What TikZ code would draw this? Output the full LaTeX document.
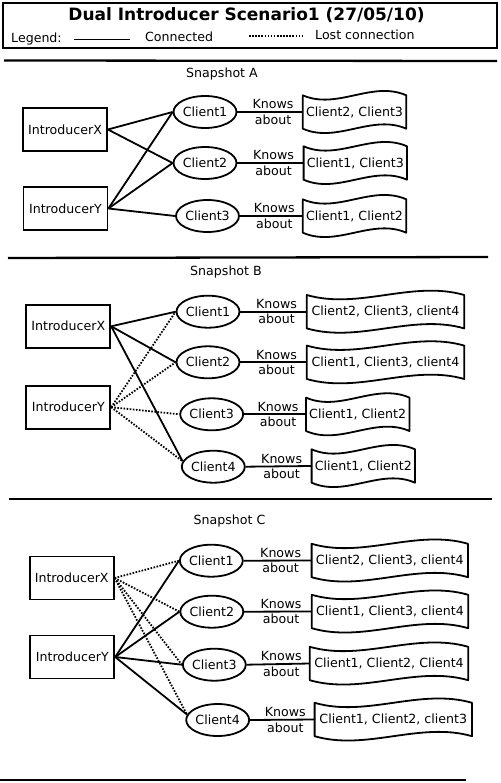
\documentclass[tikz,border=0pt]{standalone}
\usepackage{fontspec}
\setmainfont{DejaVu Sans}
\usetikzlibrary{shapes.geometric,calc}
\newcommand\tapeoutline[1]{%
  \draw[shapeline] (#1.north west)
    .. controls ($(#1.north west)!0.33!(#1.north east)+(0,15)$) and ($(#1.north west)!0.67!(#1.north east)+(0,-15)$) .. (#1.north east)
    -- (#1.south east)
    .. controls ($(#1.south west)!0.67!(#1.south east)+(0,-15)$) and ($(#1.south west)!0.33!(#1.south east)+(0,15)$) .. (#1.south west)
    -- cycle;}
\begin{document}
\begin{tikzpicture}[x=1pt,y=-1pt,
  every node/.style={font=\fontsize{12.6}{15.5}\selectfont},
  shapeline/.style={line width=1.8pt, line join=round},
  introbox/.style={draw, line width=1.8pt, minimum width=84pt, minimum height=43pt, inner sep=0pt},
  clientell/.style={ellipse, draw, line width=1.8pt, minimum width=63pt, minimum height=32pt, inner sep=0pt},
  tapebox/.style={minimum height=33pt, inner sep=0pt},
  knows/.style={align=center, inner sep=0pt, xshift=3pt},
  plain/.style={inner sep=0pt},
  conn/.style={line width=1.8pt},
  lost/.style={line width=1.8pt, dash pattern=on 1.6pt off 1.5pt},
  sepline/.style={line width=2.3pt}]
\useasboundingbox (0,0) rectangle (500,783);

% title and legend
\draw[line width=2.2pt] (3,3) rectangle (497,48);
\node[plain, font=\fontsize{17}{20}\selectfont\bfseries] (title) at (246.5,15) {Dual Introducer Scenario1 (27/05/10)};
\node[plain, anchor=west] (leg) at (11,39) {Legend:};
\coordinate (ls1) at (74,39.5);
\coordinate (ls2) at (129.5,39.5);
\draw[conn] (ls1) -- (ls2);
\node[plain, anchor=west] (lcon) at (145,37) {Connected};
\coordinate (ld1) at (249,36);
\coordinate (ld2) at (302,36);
\draw[lost] (ld1) -- (ld2);
\node[plain, anchor=west] (llost) at (315,35) {Lost connection};

% separators
\coordinate (s1a) at (4,60.5);  \coordinate (s1b) at (497,61);
\coordinate (s2a) at (8,258);   \coordinate (s2b) at (488,257);
\coordinate (s3a) at (9,499);   \coordinate (s3b) at (492,499);
\coordinate (s4a) at (0,780);   \coordinate (s4b) at (466,780);
\draw[sepline] (s1a) -- (s1b);
\draw[sepline] (s2a) -- (s2b);
\draw[sepline] (s3a) -- (s3b);
\draw[sepline] (s4a) -- (s4b);

% ---------------- Snapshot A
\node[plain] (sa) at (222,74) {Snapshot A};
\node[introbox] (ax) at (65,129.5) {IntroducerX};
\node[introbox] (ay) at (65.5,208.5) {IntroducerY};
\node[clientell] (a1) at (205,112) {Client1};
\node[clientell] (a2) at (205,163) {Client2};
\node[clientell] (a3) at (207.5,216) {Client3};
\node[tapebox, minimum width=103pt] (ad1) at (354.5,112) {Client2, Client3};
\node[tapebox, minimum width=103pt] (ad2) at (355.3,163) {Client1, Client3};
\node[tapebox, minimum width=103pt] (ad3) at (354.5,216) {Client1, Client2};
\tapeoutline{ad1}\tapeoutline{ad2}\tapeoutline{ad3}
\draw[conn] (ax.east) -- (a1.west);
\draw[conn] (ax.east) -- (a2.west);
\draw[conn] (ay.east) -- (a1.west);
\draw[conn] (ay.east) -- (a2.west);
\draw[conn] (ay.east) -- (a3.west);
\draw[conn] (a1.east) -- node[knows] {Knows\\about} (ad1.west);
\draw[conn] (a2.east) -- node[knows] {Knows\\about} (ad2.west);
\draw[conn] (a3.east) -- node[knows] {Knows\\about} (ad3.west);

% ---------------- Snapshot B
\node[plain] (sb) at (226,272) {Snapshot B};
\node[introbox] (bx) at (68.3,326.3) {IntroducerX};
\node[introbox] (by) at (68.3,407.2) {IntroducerY};
\node[clientell] (b1) at (208,311.7) {Client1};
\node[clientell] (b2) at (208,362.3) {Client2};
\node[clientell] (b3) at (211.7,414.3) {Client3};
\node[clientell] (b4) at (213.3,466.7) {Client4};
\node[tapebox, minimum width=157pt] (bd1) at (385.5,311.7) {Client2, Client3, client4};
\node[tapebox, minimum width=157pt] (bd2) at (385.5,362.3) {Client1, Client3, client4};
\node[tapebox, minimum width=103pt] (bd3) at (357.7,414.3) {Client1, Client2};
\node[tapebox, minimum width=103pt] (bd4) at (363.3,466) {Client1, Client2};
\tapeoutline{bd1}\tapeoutline{bd2}\tapeoutline{bd3}\tapeoutline{bd4}
\draw[conn] (bx.east) -- (b1.west);
\draw[conn] (bx.east) -- (b2.west);
\draw[conn] (bx.east) -- (b4.170);
\draw[lost] (by.east) -- (b1.west);
\draw[lost] (by.east) -- (b2.west);
\draw[lost] (by.east) -- (b3.west);
\draw[lost] (by.east) -- (b4.170);
\draw[conn] (b1.east) -- node[knows] {Knows\\about} (bd1.west);
\draw[conn] (b2.east) -- node[knows] {Knows\\about} (bd2.west);
\draw[conn] (b3.east) -- node[knows] {Knows\\about} (bd3.west);
\draw[conn] (b4.east) -- node[knows] {Knows\\about} (bd4.west);

% ---------------- Snapshot C
\node[plain] (sc) at (229.5,521.5) {Snapshot C};
\node[introbox] (cx) at (71.7,578) {IntroducerX};
\node[introbox] (cy) at (72.3,657) {IntroducerY};
\node[clientell] (c1) at (211.3,560.7) {Client1};
\node[clientell] (c2) at (211.8,611.7) {Client2};
\node[clientell] (c3) at (214.3,664.7) {Client3};
\node[clientell] (c4) at (217.7,720) {Client4};
\node[tapebox, minimum width=156pt] (cd1) at (389.8,560.5) {Client2, Client3, client4};
\node[tapebox, minimum width=156pt] (cd2) at (390,611.5) {Client1, Client3, client4};
\node[tapebox, minimum width=158pt] (cd3) at (389,663.5) {Client1, Client2, Client4};
\node[tapebox, minimum width=157pt] (cd4) at (393.3,719.5) {Client1, Client2, client3};
\tapeoutline{cd1}\tapeoutline{cd2}\tapeoutline{cd3}\tapeoutline{cd4}
\draw[conn] (cy.east) -- (c1.west);
\draw[conn] (cy.east) -- (c2.west);
\draw[conn] (cy.east) -- (c3.west);
\draw[conn] (cy.east) -- (c4.170);
\draw[lost] (cx.east) -- (c1.west);
\draw[lost] (cx.east) -- (c2.west);
\draw[lost] (cx.east) -- (c3.west);
\draw[lost] (cx.east) -- (c4.170);
\draw[conn] (c1.east) -- node[knows] {Knows\\about} (cd1.west);
\draw[conn] (c2.east) -- node[knows] {Knows\\about} (cd2.west);
\draw[conn] (c3.east) -- node[knows] {Knows\\about} (cd3.west);
\draw[conn] (c4.east) -- node[knows] {Knows\\about} (cd4.west);
\end{tikzpicture}
\end{document}
